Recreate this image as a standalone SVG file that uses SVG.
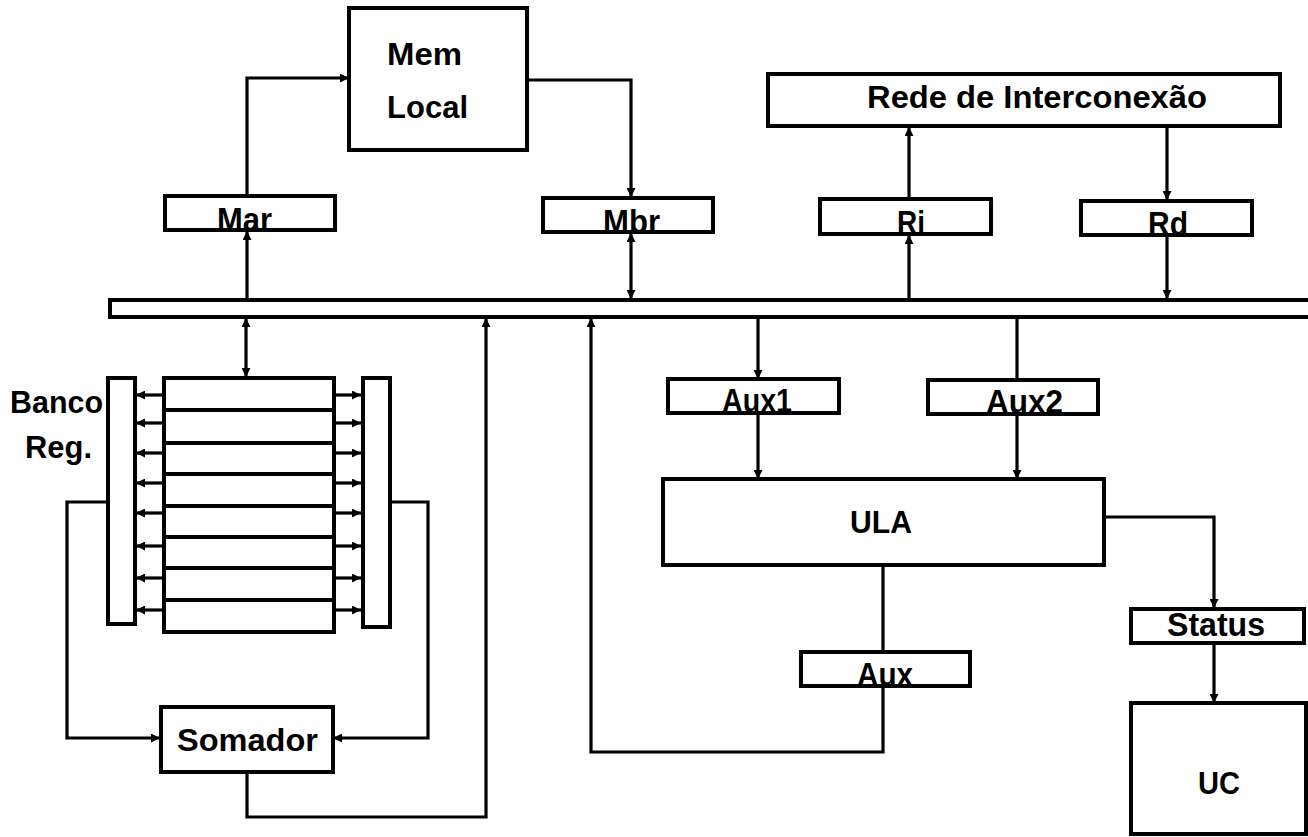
<svg xmlns="http://www.w3.org/2000/svg" width="1308" height="837" viewBox="0 0 1308 837">
<style>
.box{fill:#fff;stroke:#000;stroke-width:4}
.ln{fill:none;stroke:#000;stroke-width:3.2}
.big{font-family:"Liberation Sans",Arial,sans-serif;font-weight:bold;font-size:31px;fill:#000}
.reg{font-family:"Liberation Sans",Arial,sans-serif;font-weight:bold;font-size:34px;fill:#000}
</style>
<defs>
<marker id="ah" viewBox="0 0 10 10" refX="10" refY="5" markerWidth="10" markerHeight="9" markerUnits="userSpaceOnUse" orient="auto-start-reverse">
<path d="M0,0 L10,5 L0,10 z" fill="#000"/>
</marker>
</defs>
<rect width="1308" height="837" fill="#fff"/>

<g id="connectors">
<path class="ln" d="M247,195 V78 H349" marker-end="url(#ah)"/>
<path class="ln" d="M247,299 V231" marker-end="url(#ah)"/>
<path class="ln" d="M527,80 H631 V197" marker-end="url(#ah)"/>
<path class="ln" d="M631,233 V299" marker-start="url(#ah)" marker-end="url(#ah)"/>
<path class="ln" d="M909,299 V235" marker-end="url(#ah)"/>
<path class="ln" d="M909,198 V127" marker-end="url(#ah)"/>
<path class="ln" d="M1167,127 V200" marker-end="url(#ah)"/>
<path class="ln" d="M1167,236 V299" marker-end="url(#ah)"/>
<path class="ln" d="M246,318 V377" marker-start="url(#ah)" marker-end="url(#ah)"/>
<g marker-end="url(#ah)">
<path class="ln" d="M163,395 H136"/><path class="ln" d="M163,423 H136"/><path class="ln" d="M163,453 H136"/><path class="ln" d="M163,483 H136"/>
<path class="ln" d="M163,513 H136"/><path class="ln" d="M163,546 H136"/><path class="ln" d="M163,578 H136"/><path class="ln" d="M163,610 H136"/>
<path class="ln" d="M334,395 H361"/><path class="ln" d="M334,423 H361"/><path class="ln" d="M334,453 H361"/><path class="ln" d="M334,483 H361"/>
<path class="ln" d="M334,513 H361"/><path class="ln" d="M334,546 H361"/><path class="ln" d="M334,578 H361"/><path class="ln" d="M334,610 H361"/>
</g>
<path class="ln" d="M107,502 H67 V738 H160" marker-end="url(#ah)"/>
<path class="ln" d="M390,502 H428 V738 H333" marker-end="url(#ah)"/>
<path class="ln" d="M247,772 V817 H486 V318" marker-end="url(#ah)"/>
<path class="ln" d="M758,318 V379" marker-end="url(#ah)"/>
<path class="ln" d="M758,414 V479" marker-end="url(#ah)"/>
<path class="ln" d="M1017,318 V380"/>
<path class="ln" d="M1017,415 V479" marker-end="url(#ah)"/>
<path class="ln" d="M1104,517 H1214 V608" marker-end="url(#ah)"/>
<path class="ln" d="M1214,643 V703" marker-end="url(#ah)"/>
<path class="ln" d="M883,565 V652"/>
<path class="ln" d="M883,686 V752 H591 V318" marker-end="url(#ah)"/>
</g>

<g id="bus"><rect class="box" x="110" y="300" width="1215" height="17"/></g>

<g id="mem"><rect class="box" x="349" y="8" width="178" height="142"/>
<text class="big" x="387" y="65" font-size="32" textLength="75" lengthAdjust="spacingAndGlyphs">Mem</text>
<text class="big" x="387" y="118" font-size="32" textLength="81" lengthAdjust="spacingAndGlyphs">Local</text></g>

<g id="mar"><rect class="box" x="165" y="196" width="170" height="34"/>
<text class="reg" x="217" y="231" textLength="55" lengthAdjust="spacingAndGlyphs">Mar</text></g>

<g id="mbr"><rect class="box" x="543" y="198" width="170" height="34"/>
<text class="reg" x="603" y="233" textLength="57" lengthAdjust="spacingAndGlyphs">Mbr</text></g>

<g id="rede"><rect class="box" x="768" y="74" width="512" height="52"/>
<text class="big" x="867" y="108" textLength="340" lengthAdjust="spacingAndGlyphs">Rede de Interconexão</text></g>

<g id="ri"><rect class="box" x="820" y="199" width="171" height="35"/>
<text class="reg" x="897" y="234" textLength="28" lengthAdjust="spacingAndGlyphs">Ri</text></g>

<g id="rd"><rect class="box" x="1081" y="201" width="171" height="34"/>
<text class="reg" x="1148" y="235" textLength="40" lengthAdjust="spacingAndGlyphs">Rd</text></g>

<g id="banco">
<text class="big" x="10" y="413" textLength="93" lengthAdjust="spacingAndGlyphs">Banco</text>
<text class="big" x="25" y="458" textLength="67" lengthAdjust="spacingAndGlyphs">Reg.</text>
<rect class="box" x="108" y="378" width="27" height="246"/>
<rect class="box" x="363" y="378" width="27" height="249"/>
<rect class="box" x="164" y="378" width="170" height="254"/>
<path d="M164,410 H334 M164,443 H334 M164,474 H334 M164,506 H334 M164,537 H334 M164,568 H334 M164,600 H334" stroke="#000" stroke-width="4" fill="none"/>
</g>

<g id="somador"><rect class="box" x="161" y="707" width="172" height="65"/>
<text class="big" x="177" y="751" font-size="32" textLength="141" lengthAdjust="spacingAndGlyphs">Somador</text></g>

<g id="aux1"><rect class="box" x="668" y="379" width="171" height="34"/>
<text class="reg" x="722" y="412" textLength="70" lengthAdjust="spacingAndGlyphs">Aux1</text></g>

<g id="aux2"><rect class="box" x="928" y="380" width="170" height="34"/>
<text class="reg" x="986" y="413" textLength="77" lengthAdjust="spacingAndGlyphs">Aux2</text></g>

<g id="ula"><rect class="box" x="663" y="479" width="441" height="86"/>
<text class="big" x="850" y="533" font-size="32" textLength="62" lengthAdjust="spacingAndGlyphs">ULA</text></g>

<g id="status"><rect class="box" x="1131" y="609" width="173" height="34"/>
<text class="reg" x="1167" y="636" font-size="29" textLength="98" lengthAdjust="spacingAndGlyphs">Status</text></g>

<g id="aux"><rect class="box" x="801" y="652" width="169" height="34"/>
<text class="reg" x="857" y="686" textLength="56" lengthAdjust="spacingAndGlyphs">Aux</text></g>

<g id="uc"><rect class="box" x="1131" y="703" width="175" height="131"/>
<text class="big" x="1198" y="794" font-size="33" textLength="42" lengthAdjust="spacingAndGlyphs">UC</text></g>
</svg>
